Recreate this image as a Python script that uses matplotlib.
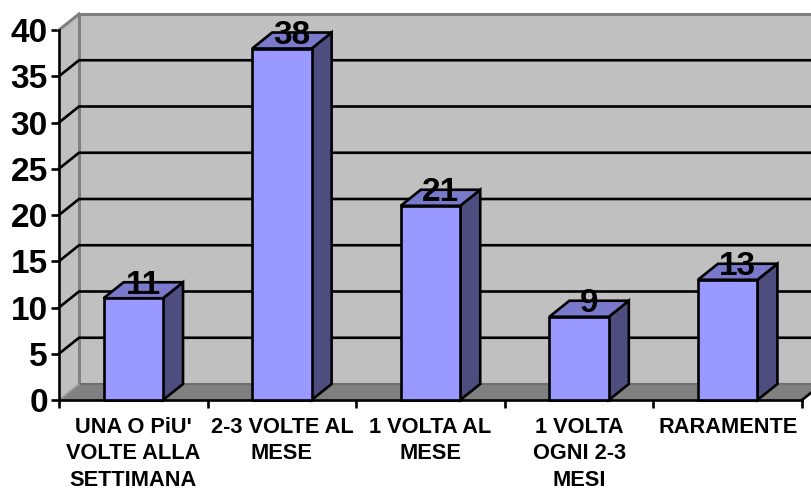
# plot.py
# 3D-look column chart: how often, by frequency band

import matplotlib
matplotlib.use("Agg")
import matplotlib.pyplot as plt
from matplotlib.patches import Polygon

plt.rcParams["font.family"] = ["Liberation Sans", "DejaVu Sans"]

categories = ["UNA O PiU'\nVOLTE ALLA\nSETTIMANA", "2-3 VOLTE AL\nMESE", "1 VOLTA AL\nMESE",
              "1 VOLTA\nOGNI 2-3\nMESI", "RARAMENTE"]
values = [11, 38, 21, 9, 13]
y_ticks = [0, 5, 10, 15, 20, 25, 30, 35, 40]

# ── Config ────────────────────────────────────────────────────────────────────
WALL    = "#c0c0c0"
FLOOR   = "#808080"
BAR     = "#9999ff"
BAR_TOP = "#7a7acc"
BAR_SIDE = "#4d4d80"
BAR_W   = 0.40
DX      = 20 / 148.6     # depth offset, in x data units
DY      = 16 / 9.25      # depth offset, in y data units
LW      = 1.9

W, H = 812, 491
fig = plt.figure(figsize=(W / 100, H / 100), dpi=100)
ax = fig.add_axes([59 / W, (H - 400) / H, 743 / W, 370 / H])
ax.set_xlim(0, 5)
ax.set_ylim(0, 40)
ax.patch.set_visible(False)
for s in ax.spines.values():
    s.set_visible(False)


def poly(pts, fc, ec="none", lw=0, z=1):
    ax.add_patch(Polygon(pts, closed=True, fc=fc, ec=ec, lw=lw, zorder=z,
                         clip_on=False, joinstyle="miter"))


# ── Walls and floor ───────────────────────────────────────────────────────────
top = y_ticks[-1]
poly([(DX, DY), (5 + DX, DY), (5 + DX, top + DY), (DX, top + DY)], WALL)
poly([(0, 0), (DX, DY), (DX, top + DY), (0, top)], WALL)
poly([(0, 0), (5, 0), (5 + DX, DY), (DX, DY)], FLOOR)

# grey frame of the back wall
ax.plot([DX, 5 + DX], [top + DY, top + DY], color="#808080", lw=2.2, zorder=2, clip_on=False)
ax.plot([0, DX], [top, top + DY], color="#808080", lw=2.2, zorder=2, clip_on=False)
ax.plot([DX, DX], [0 + DY, top + DY], color="#808080", lw=2.2, zorder=2, clip_on=False)
ax.plot([DX, 5 + DX], [DY, DY], color="#6e6e6e", lw=1.5, zorder=2, clip_on=False)
ax.plot([0, DX], [0, DY], color="#a0a0a0", lw=1.2, zorder=2, clip_on=False)

# ── Gridlines ─────────────────────────────────────────────────────────────────
for t in y_ticks[1:-1]:
    ax.plot([0, DX, 5 + DX], [t, t + DY, t + DY], color="black", lw=LW, zorder=3,
            clip_on=False, solid_joinstyle="miter")

# ── Axis lines ────────────────────────────────────────────────────────────────
ax.plot([0, 0], [0, top], color="black", lw=LW, zorder=4, clip_on=False)
ax.plot([0, 5], [0, 0], color="black", lw=LW, zorder=4, clip_on=False)
ax.plot([5, 5 + DX], [0, DY], color="black", lw=LW, zorder=3, clip_on=False)

# ── Bars ──────────────────────────────────────────────────────────────────────
centers = [i + 0.5 for i in range(len(values))]
edge = dict(ec="black", lw=LW)
for c, v in zip(centers, values):
    l, r = c - BAR_W / 2, c + BAR_W / 2
    poly([(r, 0), (r + DX, DY), (r + DX, v + DY), (r, v)], BAR_SIDE, z=5, **edge)
    poly([(l, v), (r, v), (r + DX, v + DY), (l + DX, v + DY)], BAR_TOP, z=5, **edge)
ax.bar(centers, values, width=BAR_W, color=BAR, edgecolor="black", linewidth=LW,
       zorder=6, clip_on=False)

# Value labels sit over the top face of each bar
for c, v in zip(centers, values):
    ax.text(c + DX / 2, v + DY / 2 + 0.55, str(v), ha="center", va="center",
            fontsize=24, fontweight="bold", color="black", zorder=7, clip_on=False)

# ── Ticks and labels ──────────────────────────────────────────────────────────
ax.set_yticks(y_ticks)
ax.set_yticklabels([str(t) for t in y_ticks], fontsize=24, fontweight="bold")
ax.tick_params(axis="y", length=6, width=LW, pad=2, color="black")

ax.set_xticks(range(len(values) + 1))
ax.set_xticklabels([])
ax.tick_params(axis="x", length=6, width=LW, color="black")

for c, label in zip(centers, categories):
    ax.annotate(label, xy=(c, 0), xytext=(0, -12), textcoords="offset points",
                ha="center", va="top", fontsize=15.7, fontweight="bold",
                linespacing=1.35, annotation_clip=False)

fig.savefig("out.png", dpi=100, facecolor="white")
